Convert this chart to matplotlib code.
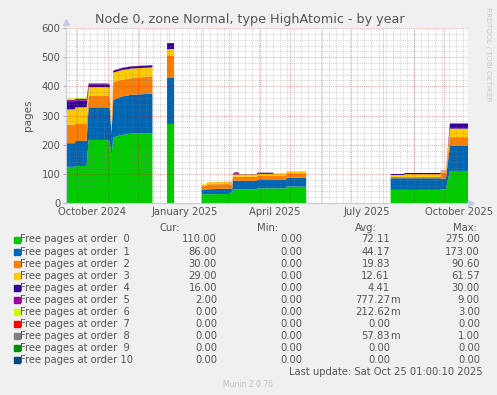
import matplotlib
matplotlib.use('Agg')
import matplotlib.pyplot as plt
import numpy as np
from matplotlib.patches import Rectangle
from datetime import datetime, timedelta

W, H = 497, 395
nan = np.nan

# days since 2024-09-20 01:00 (start of the 400 day window)
days = [0.3, 8.5, 9.5, 20.5, 22.5, 40, 43.5, 45.3, 47, 55, 65, 86, 86.5,
        100, 107, 107.5,
        135, 139.5, 140, 162, 162.5, 165.5, 166, 167, 171, 173, 190, 190.5,
        206, 206.5, 219, 219.5, 239, 239.5,
        323, 336.5, 337, 372.5, 373, 378, 382, 400]

order0 = [124, 124, 127, 127, 216, 216, 212, 159, 225, 233, 238, 240, nan,
          271, 271, nan,
          30, 30, 30, 31, 35, 35, 47, 47, 47, 47, 47, 50, 50, 50, 50, 56, 56, nan,
          45, 45, 45, 45, 47, 47, 110, 110]
order1 = [81, 81, 86, 86, 112, 112, 115, 80, 128, 132, 133, 135, nan,
          159, 159, nan,
          15, 15, 17, 18, 14, 14, 29, 29, 29, 29, 29, 31, 31, 31, 31, 31, 31, nan,
          40, 40, 40, 40, 37, 37, 86, 86]
order2 = [64, 64, 60, 60, 39, 39, 39, 4, 63, 57, 57, 60, nan,
          74, 74, nan,
          13, 13, 17, 16, 15, 15, 14, 14, 14, 14, 14, 12, 12, 12, 12, 15, 15, nan,
          4, 4, 4, 4, 21, 21, 30, 30]
order3 = [52, 52, 55, 55, 30, 30, 30, 1, 31, 33, 33, 30, nan,
          23, 23, nan,
          6, 6, 7, 7, 5, 5, 8, 8, 8, 8, 8, 7, 7, 7, 7, 5, 5, nan,
          7, 7, 10, 10, 5, 5, 29, 29]
order4 = [28, 28, 23, 23, 10, 10, 10, 0, 6, 7, 7, 7, nan,
          17, 17, nan,
          0, 0, 0, 0.5, 1, 1, 1, 4, 4, 1, 1, 4, 4, 0.5, 0.5, 0.5, 0.5, nan,
          3.5, 3.5, 4, 4, 1, 1, 16, 16]
order5 = [4, 4, 6, 6, 3, 3, 3, 0, 1, 1, 1, 1, nan,
          3, 3, nan,
          0, 0, 0, 0, 0, 0, 0, 2, 4, 0, 0, 0, 0, 0, 0, 0, 0, nan,
          0, 0, 0, 0, 0, 0, 2, 2]
order6 = [6, 6, 4, 4, 0, 0, 0, 0, 0, 0, 0, 0, nan,
          0, 0, nan,
          0, 0, 0, 0, 0, 0, 0, 0, 0, 0, 0, 0, 0, 0, 0, 0, 0, nan,
          0, 0, 0, 0, 0, 0, 0, 0]
zeros = [0 if v == v else nan for v in order0]
order7 = zeros
order8 = zeros
order9 = zeros
order10 = zeros

series = [order0, order1, order2, order3, order4, order5, order6,
          order7, order8, order9, order10]
labels = ['Free pages at order %2d' % i for i in range(11)]
colors = ['#00CC00', '#0066B3', '#FF8000', '#FFCC00', '#330099', '#990099',
          '#CCFF00', '#FF0000', '#808080', '#008F00', '#00487D']

cur = [110.0, 86.0, 30.0, 29.0, 16.0, 2.0, 0, 0, 0, 0, 0]
vmin = [0] * 11
vavg = [72.11, 44.17, 19.83, 12.61, 4.41, 0.77727, 0.21262, 0, 0.05783, 0, 0]
vmax = [275.0, 173.0, 90.60, 61.57, 30.0, 9.0, 3.0, 0, 1.0, 0, 0]

start = datetime(2024, 9, 20, 1, 0, 10)
ndays = 400.0


def dnum(d):
    return (d - start).total_seconds() / 86400.0


def fmt(v):
    if 0 < v < 1:
        return '%.2f' % (v * 1000), 'm'
    return '%.2f' % v, ''


plt.rcParams['font.family'] = 'DejaVu Sans'
fig = plt.figure(figsize=(W / 100, H / 100), dpi=100, facecolor='#F0F0F0')
ax = fig.add_axes([66 / W, (H - 203) / H, (468 - 66) / W, 175 / H])
ax.set_facecolor('white')

x = np.array(days)
base = np.zeros(len(x))
for s, c in zip(series, colors):
    top = base + np.array(s, dtype=float)
    ax.fill_between(x, base, top, color=c, linewidth=0, zorder=2)
    base = top

ax.set_xlim(0, ndays)
ax.set_ylim(0, 600)

# grid: minor gray, major red, drawn over the areas as rrdtool does
dot = (0, (1, 1))
gkw = dict(color='#808080', alpha=0.35, lw=0.7, ls=dot, zorder=3)
mkw = dict(color='#d00000', alpha=0.35, lw=0.7, ls=dot, zorder=4)
for yv in range(20, 601, 20):
    if yv % 100:
        ax.axhline(yv, **gkw)
wk = datetime(2024, 9, 23)
while dnum(wk) < ndays:
    ax.axvline(dnum(wk), **gkw)
    wk += timedelta(days=7)
for yv in range(100, 601, 100):
    ax.axhline(yv, **mkw)
for yy, mm in [(2024, m) for m in (10, 11, 12)] + [(2025, m) for m in range(1, 11)]:
    ax.axvline(dnum(datetime(yy, mm, 1)), **mkw)

for sp in ['top', 'right']:
    ax.spines[sp].set_visible(False)
for sp in ['left', 'bottom']:
    ax.spines[sp].set_color('#c5cbe0')
    ax.spines[sp].set_linewidth(0.8)
    ax.spines[sp].set_zorder(5)
ax.plot([0], [620], marker='^', ms=4, color='#c5cbe0', clip_on=False, zorder=6)
ax.plot([ndays + 3], [0], marker='>', ms=4, color='#c5cbe0', clip_on=False, zorder=6)

ax.set_yticks(range(0, 601, 100))
ax.tick_params(axis='y', length=2, width=0.6, color='#999999', labelsize=7.2,
               labelcolor='#555555', pad=2)
tick_months = [datetime(2024, 10, 16), datetime(2025, 1, 16), datetime(2025, 4, 16),
               datetime(2025, 7, 16), datetime(2025, 10, 16)]
ax.set_xticks([dnum(d) for d in tick_months])
ax.set_xticklabels([d.strftime('%B %Y') for d in tick_months])
ax.tick_params(axis='x', length=0, labelsize=7.2, labelcolor='#555555', pad=3)
ax.set_ylabel('pages', fontsize=7.5, color='#555555', labelpad=6)

fig.text(250 / W, 1 - 19 / H, 'Node 0, zone Normal, type HighAtomic - by year',
         ha='center', va='center', fontsize=9.2, color='#555555')
fig.text(488 / W, 1 - 54 / H, 'RRDTOOL / TOBI OETIKER', rotation=270,
         ha='center', va='center', fontsize=5.3, color='#c8c8c8')

tc = '#555555'
fs = 7.2
hy = 228
for txt, xc in [('Cur:', 170), ('Min:', 268), ('Avg:', 366), ('Max:', 465)]:
    fig.text(xc / W, 1 - hy / H, txt, ha='center', va='center', fontsize=fs, color=tc)

cols = [217, 302, 390, 480]
for i in range(11):
    yp = 239.5 + 12.03 * i
    fig.add_artist(Rectangle((14 / W, 1 - (yp + 3) / H), 6 / W, 6 / H,
                             transform=fig.transFigure, color=colors[i]))
    fig.text(20.5 / W, 1 - yp / H, labels[i], ha='left', va='center',
             fontsize=fs, color=tc)
    for cx, v in zip(cols, [cur[i], vmin[i], vavg[i], vmax[i]]):
        num, suf = fmt(v)
        fig.text(cx / W, 1 - yp / H, num, ha='right', va='center', fontsize=fs, color=tc)
        if suf:
            fig.text(cx / W, 1 - yp / H, suf, ha='left', va='center', fontsize=fs, color=tc)

fig.text(483 / W, 1 - 371.7 / H, 'Last update: Sat Oct 25 01:00:10 2025',
         ha='right', va='center', fontsize=fs, color=tc)
fig.text(248 / W, 1 - 384.5 / H, 'Munin 2.0.76', ha='center', va='center',
         fontsize=5.5, color='#c0c0c0')

fig.savefig('out.png', dpi=100, facecolor=fig.get_facecolor())
